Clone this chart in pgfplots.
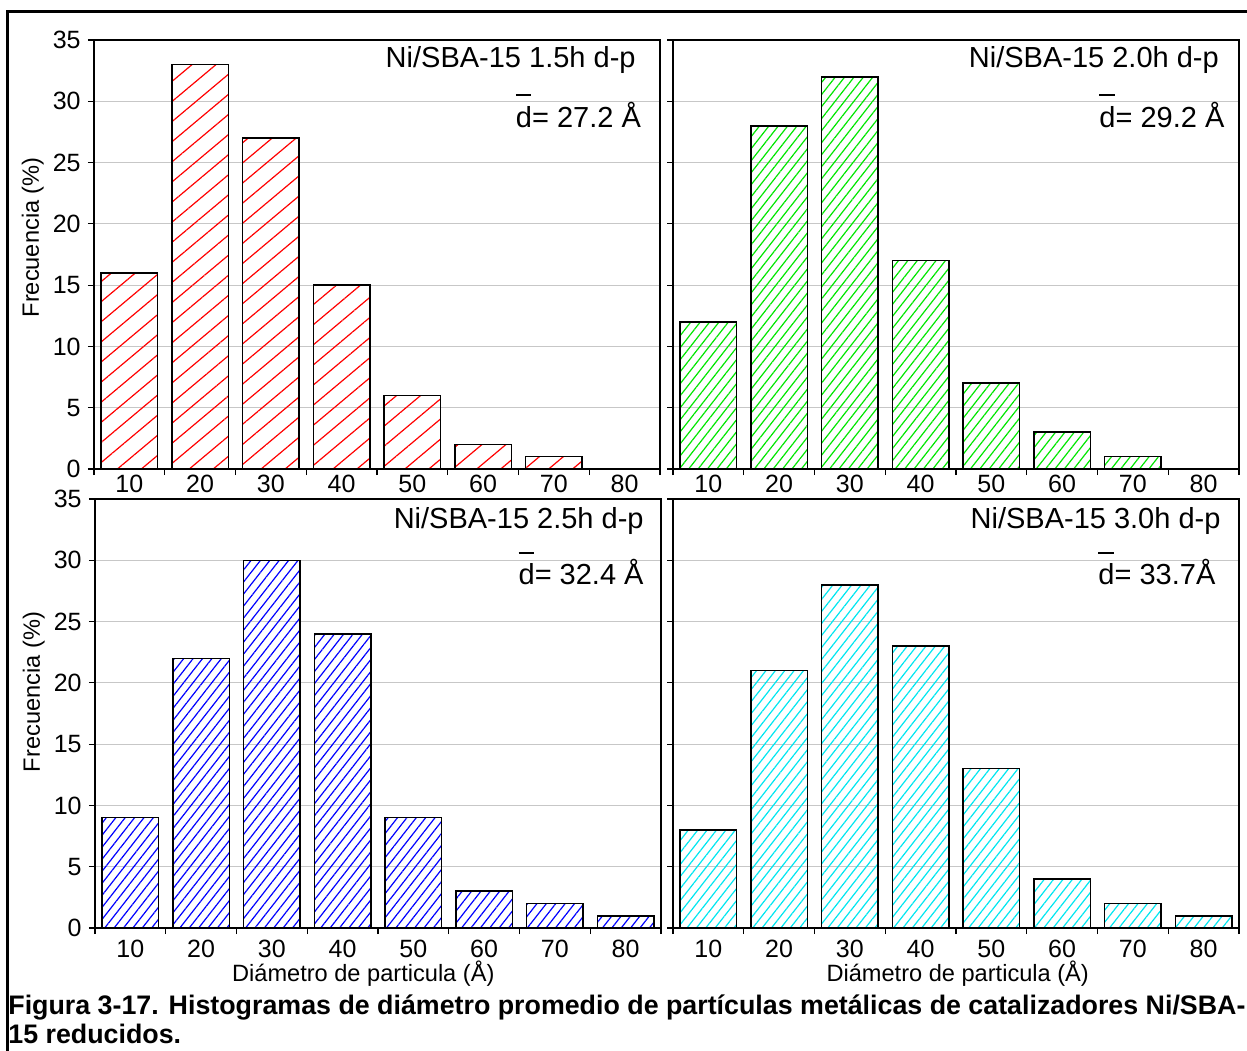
\documentclass[border=0pt]{standalone}
\usepackage{fontspec}
\setmainfont{Liberation Sans}
\usepackage{pgfplots}
\pgfplotsset{compat=1.18}
\usetikzlibrary{patterns.meta}
\newcommand\fs{\fontsize{14.5pt}{17pt}\selectfont}
\newcommand\ft{\fontsize{12.5pt}{15pt}\selectfont}
\newcommand\fl{\fontsize{11.8pt}{14pt}\selectfont}
\newcommand\dbar{\rlap{\raisebox{1.07em}{\rule{0.52em}{1pt}}}d}
\tikzset{ann/.style={anchor=base east, font=\fs, inner sep=0pt}}
\pgfplotsset{
 panel/.style={
  scale only axis, width=283pt, height=214.5pt,
  xmin=5,xmax=85,ymin=0,ymax=35,
  xtick={10,20,...,80}, minor xtick={5,15,...,85},
  ytick={0,5,...,35},
  tick align=outside, tick pos=left,
  major tick length=3pt, minor tick length=3pt,
  major x tick style={draw=none},
  ymajorgrids, major grid style={draw=black!22, line width=0.6pt},
  axis line style={line width=0.6pt},
  tick style={black, line width=0.6pt},
  tick label style={font=\ft},
  yticklabel style={inner xsep=3.5pt},
  label style={font=\fl},
  /pgf/number format/assume math mode=true,
  ybar, bar width=8,
 },
 ylab/.style={ylabel={Frecuencia (\%)}, ylabel style={at={(axis description cs:-0.108,#1)}, anchor=center}},
 xlab/.style={xlabel={Diámetro de particula (Å)}, xlabel style={at={(axis description cs:#1,0)}, anchor=base, yshift=-26.8pt}},
 hatchA/.style={draw=black, line width=0.75pt, pattern={Lines[angle=40,distance=7.7pt,line width=0.6pt]}, pattern color=#1},
 hatchB/.style={draw=black, line width=0.75pt, pattern={Lines[angle=52,distance=3.7pt,line width=0.6pt]}, pattern color=#1},
}
\definecolor{cgreen}{RGB}{0,230,0}
\definecolor{ccyan}{RGB}{0,230,240}
\begin{document}
\begin{tikzpicture}
\path[use as bounding box] (0,0) rectangle (623.5pt,-525pt);
\draw[line width=1.5pt] (3.5pt,-600pt) -- (3.5pt,-5.5pt) -- (640pt,-5.5pt);
% top left
\begin{axis}[panel, at={(47pt,-20pt)}, anchor=north west, ylab=0.54, xticklabel style={yshift=3.3pt}]
\addplot[hatchA=red] coordinates {(10,16) (20,33) (30,27) (40,15) (50,6) (60,2) (70,1)};
\node[ann] at (rel axis cs:0.9576,0.937) {Ni/SBA-15 1.5h d-p};
\node[ann] at (rel axis cs:0.967,0.797) {\dbar= 27.2 Å};
\end{axis}
% top right
\begin{axis}[panel, at={(336.5pt,-20pt)}, anchor=north west, yticklabels={}, xticklabel style={yshift=3.3pt}]
\addplot[hatchB=cgreen] coordinates {(10,12) (20,28) (30,32) (40,17) (50,7) (60,3) (70,1)};
\node[ann] at (rel axis cs:0.965,0.937) {Ni/SBA-15 2.0h d-p};
\node[ann] at (rel axis cs:0.975,0.797) {\dbar= 29.2 Å};
\end{axis}
% bottom left
\begin{axis}[panel, at={(47.5pt,-249.5pt)}, anchor=north west, ylab=0.55, xlab=0.474, xticklabel style={yshift=0.5pt}]
\addplot[hatchB=blue] coordinates {(10,9) (20,22) (30,30) (40,24) (50,9) (60,3) (70,2) (80,1)};
\node[ann] at (rel axis cs:0.97,0.932) {Ni/SBA-15 2.5h d-p};
\node[ann] at (rel axis cs:0.97,0.80) {\dbar= 32.4 Å};
\end{axis}
% bottom right
\begin{axis}[panel, at={(336.5pt,-249.5pt)}, anchor=north west, yticklabels={}, xlab=0.503, xticklabel style={yshift=0.5pt}]
\addplot[hatchB=ccyan] coordinates {(10,8) (20,21) (30,28) (40,23) (50,13) (60,4) (70,2) (80,1)};
\node[ann] at (rel axis cs:0.968,0.932) {Ni/SBA-15 3.0h d-p};
\node[ann] at (rel axis cs:0.959,0.80) {\dbar= 33.7Å};
\end{axis}
\node[anchor=base west, font=\fontsize{13.4pt}{16pt}\selectfont\bfseries, inner sep=0pt] at (4pt,-507pt) {Figura 3-17. Histogramas de diámetro promedio de partículas metálicas de catalizadores Ni/SBA-};
\node[anchor=base west, font=\fontsize{13.4pt}{16pt}\selectfont\bfseries, inner sep=0pt] at (4pt,-521.5pt) {15 reducidos.};
\end{tikzpicture}
\end{document}
